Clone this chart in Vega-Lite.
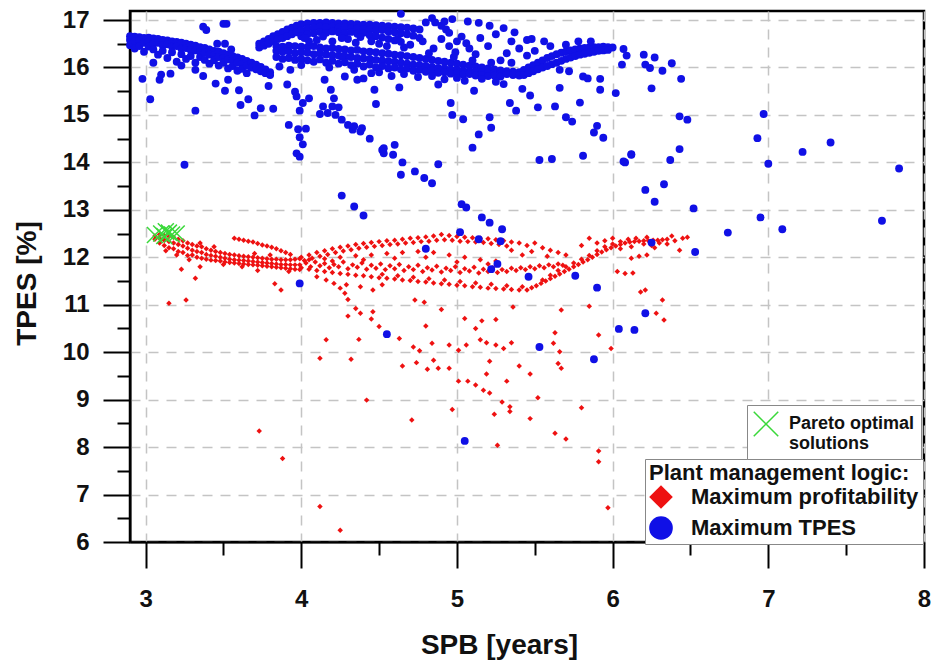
{
"$schema": "https://vega.github.io/schema/vega-lite/v6.json",
"width": 794,
"height": 531,
"autosize": {"type": "none"},
"padding": {"left": 130, "top": 11, "right": 10, "bottom": 119},
"background": "white",
"config": {"view": {"stroke": "black", "strokeWidth": 2.5}, "font": "Liberation Sans"},
"datasets": {
"blue": [
{"x":2.90,"y":16.66},{"x":2.90,"y":16.58},{"x":2.90,"y":16.47},
{"x":2.93,"y":16.65},{"x":2.93,"y":16.55},{"x":2.93,"y":16.40},
{"x":2.96,"y":16.64},{"x":2.96,"y":16.57},{"x":2.96,"y":16.45},
{"x":2.99,"y":16.62},{"x":2.99,"y":16.52},{"x":2.99,"y":16.33},
{"x":3.02,"y":16.63},{"x":3.02,"y":16.55},{"x":3.02,"y":16.44},
{"x":3.05,"y":16.61},{"x":3.05,"y":16.50},{"x":3.05,"y":16.38},
{"x":3.08,"y":16.60},{"x":3.08,"y":16.52},{"x":3.08,"y":16.27},
{"x":3.11,"y":16.58},{"x":3.11,"y":16.47},{"x":3.11,"y":16.35},
{"x":3.14,"y":16.57},{"x":3.14,"y":16.49},{"x":3.14,"y":16.20},
{"x":3.17,"y":16.55},{"x":3.17,"y":16.44},{"x":3.17,"y":16.32},
{"x":3.20,"y":16.54},{"x":3.20,"y":16.45},{"x":3.20,"y":16.12},
{"x":3.23,"y":16.52},{"x":3.23,"y":16.40},{"x":3.23,"y":16.28},
{"x":3.26,"y":16.50},{"x":3.26,"y":16.41},{"x":3.26,"y":16.18},
{"x":3.29,"y":16.48},{"x":3.29,"y":16.37},{"x":3.29,"y":16.24},
{"x":3.32,"y":16.46},{"x":3.32,"y":16.36},{"x":3.32,"y":16.10},
{"x":3.35,"y":16.43},{"x":3.35,"y":16.33},{"x":3.35,"y":16.22},
{"x":3.38,"y":16.41},{"x":3.38,"y":16.31},{"x":3.38,"y":16.16},
{"x":3.41,"y":16.38},{"x":3.41,"y":16.27},{"x":3.41,"y":16.08},
{"x":3.44,"y":16.35},{"x":3.44,"y":16.26},{"x":3.44,"y":16.15},
{"x":3.47,"y":16.33},{"x":3.47,"y":16.22},{"x":3.47,"y":16.04},
{"x":3.50,"y":16.30},{"x":3.50,"y":16.20},{"x":3.50,"y":16.10},
{"x":3.53,"y":16.27},{"x":3.53,"y":16.17},{"x":3.53,"y":15.98},
{"x":3.56,"y":16.24},{"x":3.56,"y":16.14},{"x":3.56,"y":16.03},
{"x":3.59,"y":16.21},{"x":3.59,"y":16.10},{"x":3.59,"y":15.93},
{"x":3.62,"y":16.18},{"x":3.62,"y":16.08},{"x":3.62,"y":15.97},
{"x":3.65,"y":16.14},{"x":3.65,"y":16.04},{"x":3.65,"y":15.88},
{"x":3.68,"y":16.10},{"x":3.68,"y":16.00},
{"x":3.71,"y":16.06},{"x":3.71,"y":15.96},
{"x":3.74,"y":16.01},{"x":3.74,"y":15.92},
{"x":3.77,"y":15.96},{"x":3.77,"y":15.88},
{"x":3.80,"y":15.90},{"x":3.80,"y":15.84},
{"x":2.98,"y":15.76},{"x":3.03,"y":15.33},{"x":3.32,"y":15.09},{"x":3.25,"y":13.95},{"x":3.09,"y":15.74},{"x":3.10,"y":15.85},{"x":3.05,"y":16.10},{"x":3.45,"y":15.66},{"x":3.51,"y":15.51},{"x":3.60,"y":15.52},{"x":3.53,"y":15.74},{"x":3.61,"y":15.21},{"x":3.66,"y":15.33},{"x":3.70,"y":14.99},{"x":3.74,"y":15.14},{"x":3.82,"y":15.13},{"x":3.79,"y":15.61},{"x":3.46,"y":16.50},{"x":3.51,"y":16.50},{"x":3.37,"y":16.86},{"x":3.39,"y":16.79},{"x":3.50,"y":16.92},{"x":3.52,"y":16.92},{"x":3.55,"y":16.38},{"x":3.32,"y":15.95},{"x":3.37,"y":15.82},{"x":3.16,"y":15.87},{"x":3.23,"y":16.04},
{"x":3.73,"y":16.50},{"x":3.73,"y":16.42},{"x":3.76,"y":16.55},{"x":3.76,"y":16.46},{"x":3.79,"y":16.60},{"x":3.79,"y":16.50},{"x":3.82,"y":16.66},{"x":3.82,"y":16.55},{"x":3.85,"y":16.70},{"x":3.85,"y":16.60},{"x":3.88,"y":16.75},{"x":3.88,"y":16.62},{"x":3.91,"y":16.80},{"x":3.91,"y":16.66},{"x":3.94,"y":16.84},{"x":3.94,"y":16.70},{"x":3.97,"y":16.88},{"x":3.97,"y":16.74},
{"x":4.00,"y":16.91},{"x":4.00,"y":16.78},{"x":4.00,"y":16.66},
{"x":4.04,"y":16.93},{"x":4.04,"y":16.82},{"x":4.04,"y":16.70},
{"x":4.08,"y":16.94},{"x":4.08,"y":16.84},{"x":4.08,"y":16.72},
{"x":4.12,"y":16.94},{"x":4.12,"y":16.86},{"x":4.12,"y":16.75},
{"x":4.16,"y":16.95},{"x":4.16,"y":16.85},{"x":4.16,"y":16.73},
{"x":4.20,"y":16.94},{"x":4.20,"y":16.86},{"x":4.20,"y":16.76},
{"x":4.24,"y":16.93},{"x":4.24,"y":16.84},{"x":4.24,"y":16.74},
{"x":4.28,"y":16.93},{"x":4.28,"y":16.85},{"x":4.28,"y":16.72},
{"x":4.32,"y":16.92},{"x":4.32,"y":16.83},{"x":4.32,"y":16.75},
{"x":4.36,"y":16.91},{"x":4.36,"y":16.82},{"x":4.36,"y":16.71},
{"x":4.40,"y":16.90},{"x":4.40,"y":16.81},{"x":4.40,"y":16.73},
{"x":4.44,"y":16.90},{"x":4.44,"y":16.80},{"x":4.44,"y":16.68},
{"x":4.48,"y":16.89},{"x":4.48,"y":16.78},{"x":4.48,"y":16.66},
{"x":4.52,"y":16.88},{"x":4.52,"y":16.79},{"x":4.52,"y":16.63},
{"x":4.56,"y":16.87},{"x":4.56,"y":16.76},{"x":4.56,"y":16.60},
{"x":4.60,"y":16.86},{"x":4.60,"y":16.74},{"x":4.60,"y":16.57},
{"x":4.64,"y":16.85},{"x":4.64,"y":16.72},{"x":4.64,"y":16.54},
{"x":4.68,"y":16.84},{"x":4.68,"y":16.70},{"x":4.72,"y":16.82},{"x":4.72,"y":16.67},{"x":4.76,"y":16.80},{"x":4.76,"y":16.62},
{"x":4.80,"y":16.95},{"x":4.86,"y":16.95},{"x":4.90,"y":16.88},{"x":4.93,"y":16.80},{"x":4.95,"y":16.73},{"x":4.92,"y":16.97},
{"x":3.84,"y":16.45},{"x":3.84,"y":16.35},{"x":3.84,"y":16.22},
{"x":3.88,"y":16.44},{"x":3.88,"y":16.33},{"x":3.88,"y":16.18},
{"x":3.92,"y":16.46},{"x":3.92,"y":16.34},{"x":3.92,"y":16.20},
{"x":3.96,"y":16.45},{"x":3.96,"y":16.30},{"x":3.96,"y":16.16},
{"x":4.00,"y":16.44},{"x":4.00,"y":16.32},{"x":4.00,"y":16.18},{"x":4.00,"y":16.05},
{"x":4.04,"y":16.43},{"x":4.04,"y":16.31},{"x":4.04,"y":16.15},
{"x":4.08,"y":16.45},{"x":4.08,"y":16.28},{"x":4.08,"y":16.12},
{"x":4.12,"y":16.42},{"x":4.12,"y":16.30},{"x":4.12,"y":16.17},
{"x":4.16,"y":16.40},{"x":4.16,"y":16.27},{"x":4.16,"y":16.10},
{"x":4.20,"y":16.41},{"x":4.20,"y":16.26},{"x":4.20,"y":16.14},
{"x":4.24,"y":16.39},{"x":4.24,"y":16.25},{"x":4.24,"y":16.08},
{"x":4.28,"y":16.38},{"x":4.28,"y":16.23},{"x":4.28,"y":16.11},
{"x":4.32,"y":16.36},{"x":4.32,"y":16.22},{"x":4.32,"y":16.05},
{"x":4.36,"y":16.37},{"x":4.36,"y":16.20},{"x":4.36,"y":16.08},
{"x":4.40,"y":16.34},{"x":4.40,"y":16.19},{"x":4.40,"y":16.02},
{"x":4.44,"y":16.33},{"x":4.44,"y":16.18},{"x":4.44,"y":16.06},
{"x":4.48,"y":16.32},{"x":4.48,"y":16.16},{"x":4.48,"y":16.00},
{"x":4.52,"y":16.30},{"x":4.52,"y":16.15},{"x":4.52,"y":16.03},
{"x":4.56,"y":16.29},{"x":4.56,"y":16.13},{"x":4.56,"y":15.98},
{"x":4.60,"y":16.27},{"x":4.60,"y":16.12},{"x":4.60,"y":16.00},
{"x":4.64,"y":16.26},{"x":4.64,"y":16.10},{"x":4.64,"y":15.96},
{"x":4.68,"y":16.24},{"x":4.68,"y":16.08},{"x":4.68,"y":15.98},
{"x":4.72,"y":16.22},{"x":4.72,"y":16.06},{"x":4.72,"y":15.93},
{"x":4.76,"y":16.20},{"x":4.76,"y":16.05},{"x":4.76,"y":15.95},
{"x":4.80,"y":16.18},{"x":4.80,"y":16.03},{"x":4.80,"y":15.91},
{"x":4.84,"y":16.16},{"x":4.84,"y":16.01},{"x":4.84,"y":15.93},
{"x":4.88,"y":16.14},{"x":4.88,"y":15.99},{"x":4.88,"y":15.89},
{"x":4.92,"y":16.12},{"x":4.92,"y":15.98},{"x":4.92,"y":15.90},
{"x":4.96,"y":16.10},{"x":4.96,"y":15.96},{"x":4.96,"y":15.87},
{"x":5.00,"y":16.08},{"x":5.00,"y":15.95},{"x":5.00,"y":15.88},
{"x":5.04,"y":16.06},{"x":5.04,"y":15.93},{"x":5.04,"y":15.85},
{"x":5.08,"y":16.04},{"x":5.08,"y":15.92},{"x":5.08,"y":15.86},
{"x":5.12,"y":16.02},{"x":5.12,"y":15.91},{"x":5.12,"y":15.83},
{"x":5.16,"y":16.00},{"x":5.16,"y":15.90},{"x":5.16,"y":15.84},
{"x":5.20,"y":15.98},{"x":5.20,"y":15.89},{"x":5.20,"y":15.82},
{"x":5.24,"y":15.96},{"x":5.24,"y":15.88},{"x":5.24,"y":15.83},
{"x":5.28,"y":15.94},{"x":5.28,"y":15.87},{"x":5.28,"y":15.81},
{"x":5.32,"y":15.92},{"x":5.32,"y":15.86},{"x":5.36,"y":15.91},{"x":5.36,"y":15.84},{"x":5.40,"y":15.90},{"x":5.40,"y":15.83},
{"x":5.43,"y":15.95},{"x":5.43,"y":15.84},{"x":5.46,"y":16.00},{"x":5.46,"y":15.88},{"x":5.49,"y":16.05},{"x":5.49,"y":15.92},{"x":5.52,"y":16.10},{"x":5.52,"y":15.96},{"x":5.55,"y":16.15},{"x":5.55,"y":16.00},{"x":5.58,"y":16.20},{"x":5.58,"y":16.03},{"x":5.61,"y":16.24},{"x":5.61,"y":16.07},{"x":5.64,"y":16.28},{"x":5.64,"y":16.10},{"x":5.67,"y":16.31},{"x":5.67,"y":16.14},{"x":5.70,"y":16.34},{"x":5.70,"y":16.18},{"x":5.73,"y":16.36},{"x":5.73,"y":16.21},{"x":5.76,"y":16.38},{"x":5.76,"y":16.24},{"x":5.79,"y":16.40},{"x":5.79,"y":16.27},{"x":5.82,"y":16.41},{"x":5.82,"y":16.29},{"x":5.85,"y":16.42},{"x":5.85,"y":16.31},{"x":5.88,"y":16.43},{"x":5.88,"y":16.33},{"x":5.91,"y":16.43},{"x":5.91,"y":16.35},{"x":5.94,"y":16.44},{"x":5.94,"y":16.36},{"x":5.97,"y":16.43},{"x":5.97,"y":16.37},{"x":6.00,"y":16.42},
{"x":4.45,"y":16.55},{"x":4.55,"y":16.45},{"x":4.62,"y":16.60},{"x":4.70,"y":16.48},{"x":4.78,"y":16.55},{"x":4.85,"y":16.40},{"x":4.90,"y":16.60},{"x":4.95,"y":16.45},{"x":5.00,"y":16.55},{"x":5.08,"y":16.40},{"x":5.15,"y":16.62},{"x":5.20,"y":16.45},{"x":5.25,"y":16.70},{"x":5.35,"y":16.55},{"x":5.40,"y":16.40},{"x":5.45,"y":16.25},{"x":5.50,"y":16.35},{"x":4.10,"y":16.58},{"x":4.20,"y":16.55},{"x":4.30,"y":16.60},{"x":4.05,"y":16.55},{"x":4.35,"y":16.52},{"x":5.28,"y":16.15},{"x":5.35,"y":16.10},{"x":5.45,"y":16.58},{"x":5.60,"y":16.45},{"x":5.70,"y":16.48},{"x":5.30,"y":15.65},{"x":5.25,"y":15.70},{"x":5.05,"y":15.72},{"x":4.92,"y":15.75},{"x":4.75,"y":15.80},{"x":4.58,"y":15.82},{"x":4.45,"y":15.88},
{"x":4.02,"y":16.62},{"x":4.14,"y":16.65},{"x":4.26,"y":16.62},{"x":4.38,"y":16.64},{"x":4.50,"y":16.50},{"x":4.66,"y":16.42},{"x":4.82,"y":16.30},{"x":4.98,"y":16.22},{"x":5.10,"y":16.15},{"x":5.22,"y":16.10},{"x":4.18,"y":16.00},{"x":4.34,"y":15.95},{"x":4.50,"y":15.90},{"x":4.66,"y":15.86},{"x":4.84,"y":15.82},{"x":5.00,"y":15.78},{"x":5.16,"y":15.76},
{"x":3.86,"y":16.02},{"x":3.93,"y":15.95},{"x":3.91,"y":15.64},{"x":3.96,"y":15.49},{"x":3.97,"y":15.39},{"x":4.01,"y":15.25},{"x":3.99,"y":15.09},{"x":3.92,"y":14.79},{"x":3.98,"y":14.70},{"x":4.03,"y":14.71},{"x":3.99,"y":14.53},{"x":4.01,"y":14.38},{"x":3.97,"y":14.19},{"x":3.99,"y":14.12},{"x":4.05,"y":15.35},
{"x":4.12,"y":15.02},{"x":4.14,"y":15.18},{"x":4.17,"y":15.04},{"x":4.20,"y":15.18},{"x":4.21,"y":15.35},{"x":4.19,"y":15.53},{"x":4.24,"y":15.16},{"x":4.22,"y":15.00},{"x":4.26,"y":14.90},{"x":4.30,"y":14.79},{"x":4.33,"y":14.69},{"x":4.34,"y":14.76},{"x":4.38,"y":14.65},{"x":4.39,"y":14.72},{"x":4.44,"y":14.50},{"x":4.52,"y":14.26},{"x":4.53,"y":14.19},{"x":4.15,"y":15.74},{"x":4.26,"y":16.23},{"x":4.28,"y":15.81},{"x":4.36,"y":15.74},{"x":4.40,"y":15.77},{"x":4.47,"y":15.53},{"x":4.48,"y":15.23},{"x":4.26,"y":13.30},{"x":4.34,"y":13.07},
{"x":4.64,"y":17.13},{"x":4.84,"y":17.04},{"x":4.97,"y":17.02},{"x":5.07,"y":16.97},{"x":5.14,"y":16.94},{"x":5.21,"y":16.88},{"x":5.30,"y":16.83},{"x":5.37,"y":16.74},{"x":5.48,"y":16.60},{"x":5.56,"y":16.55},{"x":5.03,"y":16.65},{"x":5.06,"y":16.51},{"x":4.99,"y":16.32},{"x":5.12,"y":16.28},{"x":5.32,"y":16.30},{"x":5.78,"y":16.55},{"x":5.86,"y":16.55},{"x":6.09,"y":16.25},{"x":6.06,"y":16.06},{"x":5.92,"y":15.76},{"x":5.92,"y":15.53},{"x":6.02,"y":15.46},{"x":5.81,"y":15.81},{"x":5.84,"y":15.77},{"x":5.66,"y":15.57},{"x":5.79,"y":15.26},{"x":5.63,"y":15.18},{"x":5.52,"y":15.16},{"x":5.47,"y":15.41},{"x":5.42,"y":15.55},{"x":5.34,"y":15.25},{"x":5.38,"y":15.09},{"x":5.70,"y":14.95},{"x":5.74,"y":14.86},{"x":5.90,"y":14.77},{"x":5.88,"y":14.63},{"x":5.94,"y":14.52},{"x":5.81,"y":14.14},{"x":5.53,"y":14.05},{"x":5.61,"y":14.07},{"x":6.08,"y":14.00},{"x":6.12,"y":14.16},{"x":5.66,"y":15.95},{"x":5.72,"y":15.92},
{"x":4.63,"y":15.58},{"x":4.88,"y":15.64},{"x":4.96,"y":15.25},{"x":4.97,"y":15.00},{"x":5.04,"y":14.91},{"x":5.11,"y":15.51},{"x":5.14,"y":14.59},{"x":5.21,"y":14.95},{"x":5.22,"y":14.73},{"x":5.10,"y":14.31},{"x":4.88,"y":13.96},{"x":4.64,"y":13.74},{"x":4.73,"y":13.81},{"x":4.79,"y":13.67},{"x":4.84,"y":13.56},{"x":4.53,"y":14.30},{"x":4.60,"y":14.37},{"x":4.59,"y":14.16},{"x":4.65,"y":14.00},{"x":5.03,"y":13.12},{"x":5.06,"y":13.05},
{"x":5.16,"y":12.84},{"x":5.21,"y":12.73},{"x":5.29,"y":12.59},{"x":5.02,"y":12.53},{"x":5.14,"y":12.38},{"x":5.28,"y":12.34},{"x":4.80,"y":12.18},{"x":5.26,"y":11.86},{"x":5.22,"y":11.75},{"x":5.46,"y":11.59},{"x":5.76,"y":11.61},{"x":5.90,"y":11.36},{"x":6.21,"y":10.82},{"x":6.04,"y":10.49},{"x":6.14,"y":10.47},{"x":5.53,"y":10.11},{"x":5.88,"y":9.85},{"x":5.05,"y":8.13},{"x":4.55,"y":10.38},{"x":6.27,"y":13.17},{"x":6.25,"y":12.31},{"x":4.40,"y":12.88},{"x":3.99,"y":11.45},
{"x":6.07,"y":16.39},{"x":6.20,"y":16.27},{"x":6.21,"y":16.06},{"x":6.24,"y":15.99},{"x":6.27,"y":16.21},{"x":6.32,"y":15.93},{"x":6.38,"y":16.09},{"x":6.44,"y":15.76},{"x":6.25,"y":15.56},{"x":6.43,"y":14.97},{"x":6.48,"y":14.90},{"x":6.97,"y":15.02},{"x":6.93,"y":14.51},{"x":7.22,"y":14.22},{"x":7.40,"y":14.42},{"x":7.00,"y":13.97},{"x":7.84,"y":13.87},{"x":6.07,"y":14.02},{"x":6.12,"y":14.17},{"x":6.37,"y":14.05},{"x":6.43,"y":14.28},{"x":6.33,"y":13.54},{"x":6.21,"y":13.42},{"x":6.52,"y":13.03},{"x":6.95,"y":12.84},{"x":7.09,"y":12.59},{"x":7.73,"y":12.77},{"x":6.74,"y":12.52},{"x":6.53,"y":12.11}
],
"red": [
{"x":3.06,"y":12.45},{"x":3.06,"y":12.38},
{"x":3.09,"y":12.48},{"x":3.09,"y":12.40},{"x":3.09,"y":12.30},
{"x":3.12,"y":12.46},{"x":3.12,"y":12.36},{"x":3.12,"y":12.25},
{"x":3.15,"y":12.44},{"x":3.15,"y":12.33},{"x":3.15,"y":12.20},
{"x":3.18,"y":12.42},{"x":3.18,"y":12.30},{"x":3.18,"y":12.18},
{"x":3.21,"y":12.38},{"x":3.21,"y":12.27},{"x":3.21,"y":12.12},
{"x":3.24,"y":12.35},{"x":3.24,"y":12.24},{"x":3.24,"y":12.10},
{"x":3.27,"y":12.30},{"x":3.27,"y":12.19},{"x":3.27,"y":12.04},
{"x":3.30,"y":12.27},{"x":3.30,"y":12.15},{"x":3.30,"y":12.05},
{"x":3.33,"y":12.24},{"x":3.33,"y":12.12},{"x":3.33,"y":12.00},
{"x":3.36,"y":12.22},{"x":3.36,"y":12.10},{"x":3.36,"y":11.98},
{"x":3.39,"y":12.18},{"x":3.39,"y":12.06},{"x":3.39,"y":11.96},
{"x":3.42,"y":12.15},{"x":3.42,"y":12.04},{"x":3.42,"y":11.94},
{"x":3.45,"y":12.12},{"x":3.45,"y":12.02},{"x":3.45,"y":11.93},
{"x":3.48,"y":12.10},{"x":3.48,"y":12.00},{"x":3.48,"y":11.92},
{"x":3.51,"y":12.08},{"x":3.51,"y":11.98},{"x":3.51,"y":11.90},
{"x":3.54,"y":12.06},{"x":3.54,"y":11.96},{"x":3.54,"y":11.89},
{"x":3.57,"y":12.05},{"x":3.57,"y":11.95},{"x":3.57,"y":11.88},
{"x":3.60,"y":12.03},{"x":3.60,"y":11.94},{"x":3.60,"y":11.87},
{"x":3.63,"y":12.02},{"x":3.63,"y":11.93},{"x":3.63,"y":11.86},
{"x":3.66,"y":12.01},{"x":3.66,"y":11.92},{"x":3.66,"y":11.85},
{"x":3.69,"y":12.00},{"x":3.69,"y":11.91},{"x":3.69,"y":11.84},
{"x":3.72,"y":11.99},{"x":3.72,"y":11.90},{"x":3.72,"y":11.83},
{"x":3.75,"y":11.98},{"x":3.75,"y":11.89},{"x":3.75,"y":11.82},
{"x":3.78,"y":11.97},{"x":3.78,"y":11.88},{"x":3.78,"y":11.81},
{"x":3.81,"y":11.96},{"x":3.81,"y":11.87},{"x":3.81,"y":11.80},
{"x":3.84,"y":11.96},{"x":3.84,"y":11.86},{"x":3.84,"y":11.79},
{"x":3.87,"y":11.95},{"x":3.87,"y":11.85},{"x":3.87,"y":11.78},
{"x":3.90,"y":11.95},{"x":3.90,"y":11.85},{"x":3.90,"y":11.77},
{"x":3.93,"y":11.95},{"x":3.93,"y":11.84},{"x":3.93,"y":11.76},
{"x":3.96,"y":11.96},{"x":3.96,"y":11.84},{"x":3.96,"y":11.75},
{"x":3.99,"y":11.97},{"x":3.99,"y":11.84},{"x":3.99,"y":11.74},
{"x":3.13,"y":12.14},{"x":3.20,"y":12.05},{"x":3.28,"y":11.95},{"x":3.35,"y":12.30},{"x":3.44,"y":12.22},{"x":3.50,"y":11.85},{"x":3.62,"y":11.80},{"x":3.70,"y":12.08},{"x":3.80,"y":12.05},{"x":3.92,"y":11.70},
{"x":3.57,"y":12.40},{"x":3.60,"y":12.38},{"x":3.63,"y":12.36},{"x":3.66,"y":12.34},{"x":3.69,"y":12.32},{"x":3.72,"y":12.29},{"x":3.75,"y":12.26},{"x":3.78,"y":12.24},{"x":3.81,"y":12.21},{"x":3.84,"y":12.18},{"x":3.87,"y":12.14},{"x":3.90,"y":12.10},{"x":3.93,"y":12.06},
{"x":4.00,"y":12.00},{"x":4.05,"y":12.05},{"x":4.10,"y":12.10},{"x":4.15,"y":12.14},{"x":4.20,"y":12.18},{"x":4.25,"y":12.21},{"x":4.30,"y":12.24},{"x":4.35,"y":12.27},{"x":4.40,"y":12.29},{"x":4.45,"y":12.31},{"x":4.50,"y":12.33},{"x":4.55,"y":12.35},{"x":4.60,"y":12.36},{"x":4.65,"y":12.38},{"x":4.70,"y":12.40},{"x":4.75,"y":12.41},{"x":4.80,"y":12.43},{"x":4.85,"y":12.45},{"x":4.90,"y":12.48},{"x":4.95,"y":12.46},{"x":5.00,"y":12.44},{"x":5.05,"y":12.42},{"x":5.10,"y":12.41},{"x":5.15,"y":12.40},{"x":5.20,"y":12.39},{"x":5.25,"y":12.37},{"x":5.30,"y":12.35},{"x":5.35,"y":12.32},{"x":5.40,"y":12.30},
{"x":4.02,"y":11.93},{"x":4.07,"y":11.98},{"x":4.12,"y":12.02},{"x":4.17,"y":12.06},{"x":4.22,"y":12.10},{"x":4.27,"y":12.13},{"x":4.32,"y":12.16},{"x":4.37,"y":12.19},{"x":4.42,"y":12.21},{"x":4.47,"y":12.23},{"x":4.52,"y":12.25},{"x":4.57,"y":12.27},{"x":4.62,"y":12.28},{"x":4.67,"y":12.30},{"x":4.72,"y":12.31},{"x":4.77,"y":12.33},{"x":4.82,"y":12.34},{"x":4.87,"y":12.36},{"x":4.92,"y":12.37},{"x":4.97,"y":12.36},{"x":5.02,"y":12.34},{"x":5.07,"y":12.33},{"x":5.12,"y":12.32},{"x":5.17,"y":12.31},{"x":5.22,"y":12.29},{"x":5.27,"y":12.27},{"x":5.32,"y":12.24},
{"x":5.45,"y":12.25},{"x":5.50,"y":12.30},{"x":5.55,"y":12.20},{"x":5.60,"y":12.15},{"x":5.65,"y":12.10},{"x":5.70,"y":12.05},{"x":5.48,"y":12.12},{"x":5.58,"y":12.02},{"x":5.35,"y":12.15},{"x":5.42,"y":12.05},
{"x":4.03,"y":11.88},{"x":4.06,"y":11.80},{"x":4.09,"y":11.90},{"x":4.12,"y":11.82},{"x":4.15,"y":11.87},{"x":4.18,"y":11.78},{"x":4.21,"y":11.85},{"x":4.24,"y":11.80},{"x":4.27,"y":11.90},{"x":4.30,"y":11.76},{"x":4.33,"y":11.84},{"x":4.36,"y":11.79},{"x":4.39,"y":11.88},{"x":4.42,"y":11.75},{"x":4.45,"y":11.83},{"x":4.48,"y":11.77},{"x":4.51,"y":11.86},{"x":4.54,"y":11.74},{"x":4.57,"y":11.82},{"x":4.60,"y":11.76},{"x":4.63,"y":11.85},{"x":4.66,"y":11.72},{"x":4.69,"y":11.80},{"x":4.72,"y":11.74},{"x":4.75,"y":11.83},{"x":4.78,"y":11.70},{"x":4.81,"y":11.78},{"x":4.84,"y":11.73},{"x":4.87,"y":11.81},{"x":4.90,"y":11.69},{"x":4.93,"y":11.77},{"x":4.96,"y":11.72},{"x":4.99,"y":11.80},{"x":5.02,"y":11.68},{"x":5.05,"y":11.76},{"x":5.08,"y":11.71},{"x":5.11,"y":11.79},{"x":5.14,"y":11.67},{"x":5.17,"y":11.75},{"x":5.20,"y":11.70},{"x":5.23,"y":11.78},{"x":5.26,"y":11.68},{"x":5.29,"y":11.74},{"x":5.32,"y":11.70},{"x":5.35,"y":11.77},{"x":5.38,"y":11.72},{"x":5.41,"y":11.78},{"x":5.44,"y":11.74},{"x":5.47,"y":11.80},{"x":5.50,"y":11.76},{"x":5.53,"y":11.82},{"x":5.56,"y":11.78},{"x":5.59,"y":11.84},{"x":5.62,"y":11.80},{"x":5.65,"y":11.86},{"x":5.68,"y":11.83},
{"x":4.05,"y":11.95},{"x":4.15,"y":11.97},{"x":4.25,"y":12.00},{"x":4.35,"y":12.03},{"x":4.45,"y":12.05},{"x":4.55,"y":12.08},{"x":4.65,"y":12.10},{"x":4.75,"y":12.12},{"x":4.85,"y":12.10},{"x":4.95,"y":12.05},{"x":5.05,"y":12.00},{"x":5.15,"y":11.95},{"x":5.25,"y":11.92},{"x":4.20,"y":11.92},{"x":4.40,"y":11.95},{"x":4.60,"y":11.98},{"x":4.80,"y":12.00},{"x":5.00,"y":11.90},{"x":5.20,"y":11.86},
{"x":4.00,"y":11.78},{"x":4.05,"y":11.75},{"x":4.10,"y":11.72},{"x":4.15,"y":11.70},{"x":4.20,"y":11.68},{"x":4.25,"y":11.66},{"x":4.30,"y":11.64},{"x":4.35,"y":11.62},{"x":4.40,"y":11.61},{"x":4.45,"y":11.59},{"x":4.50,"y":11.57},{"x":4.55,"y":11.56},{"x":4.60,"y":11.54},{"x":4.65,"y":11.52},{"x":4.70,"y":11.51},{"x":4.75,"y":11.49},{"x":4.80,"y":11.48},{"x":4.85,"y":11.46},{"x":4.90,"y":11.44},{"x":4.95,"y":11.43},{"x":5.00,"y":11.41},{"x":5.05,"y":11.40},{"x":5.10,"y":11.38},{"x":5.15,"y":11.37},{"x":5.20,"y":11.35},{"x":5.25,"y":11.34},{"x":5.30,"y":11.33},{"x":5.35,"y":11.32},{"x":5.40,"y":11.31},{"x":5.45,"y":11.31},
{"x":4.52,"y":11.64},{"x":4.62,"y":11.61},{"x":4.72,"y":11.58},{"x":4.82,"y":11.55},{"x":4.92,"y":11.52},{"x":5.02,"y":11.49},{"x":5.12,"y":11.46},{"x":5.22,"y":11.43},{"x":5.32,"y":11.40},{"x":5.42,"y":11.38},
{"x":5.48,"y":11.36},{"x":5.51,"y":11.40},{"x":5.54,"y":11.45},{"x":5.57,"y":11.50},{"x":5.60,"y":11.55},{"x":5.63,"y":11.60},{"x":5.66,"y":11.65},{"x":5.69,"y":11.70},{"x":5.72,"y":11.75},{"x":5.75,"y":11.80},{"x":5.78,"y":11.85},{"x":5.81,"y":11.90},{"x":5.84,"y":11.95},{"x":5.87,"y":12.00},{"x":5.90,"y":12.06},{"x":5.93,"y":12.11},{"x":5.96,"y":12.16},{"x":5.99,"y":12.20},{"x":6.02,"y":12.24},{"x":6.05,"y":12.27},{"x":6.08,"y":12.30},{"x":6.11,"y":12.32},{"x":6.14,"y":12.33},{"x":6.17,"y":12.34},{"x":6.20,"y":12.35},{"x":6.23,"y":12.35},{"x":6.26,"y":12.36},{"x":6.29,"y":12.36},{"x":6.32,"y":12.37},{"x":6.35,"y":12.38},
{"x":5.55,"y":11.52},{"x":5.60,"y":11.62},{"x":5.65,"y":11.72},{"x":5.70,"y":11.80},{"x":5.75,"y":11.88},{"x":5.80,"y":11.96},{"x":5.85,"y":12.04},{"x":5.90,"y":12.14},{"x":5.95,"y":12.22},{"x":6.00,"y":12.28},{"x":6.05,"y":12.33},{"x":6.10,"y":12.38},{"x":6.15,"y":12.40},{"x":6.20,"y":12.28},{"x":6.25,"y":12.25},{"x":6.30,"y":12.30},{"x":6.35,"y":12.28},{"x":6.40,"y":12.35},{"x":6.45,"y":12.40},{"x":6.22,"y":12.42},{"x":6.05,"y":12.18},{"x":6.12,"y":12.22},
{"x":5.90,"y":12.30},{"x":5.95,"y":12.35},{"x":6.00,"y":12.40},{"x":6.27,"y":12.20},{"x":6.43,"y":12.15},{"x":6.48,"y":12.42},{"x":6.38,"y":12.45},{"x":5.80,"y":12.25},{"x":5.85,"y":12.40},{"x":6.17,"y":12.02},{"x":6.22,"y":12.05},{"x":6.12,"y":11.98},
{"x":3.15,"y":11.03},{"x":3.26,"y":11.10},{"x":3.32,"y":11.56},{"x":3.23,"y":11.75},{"x":3.35,"y":11.80},{"x":3.83,"y":11.44},{"x":3.87,"y":11.31},{"x":3.72,"y":11.72},{"x":3.73,"y":8.34},{"x":3.88,"y":7.76},{"x":4.12,"y":6.75},{"x":4.25,"y":6.25},{"x":4.12,"y":9.87},{"x":4.16,"y":10.26},{"x":4.32,"y":9.85},{"x":4.37,"y":10.27},{"x":4.42,"y":8.99},{"x":4.30,"y":10.76},{"x":4.35,"y":10.92},{"x":4.38,"y":10.82},{"x":4.45,"y":10.70},{"x":4.46,"y":10.85},{"x":4.50,"y":10.54},{"x":4.30,"y":11.11},{"x":4.28,"y":11.24},{"x":4.25,"y":11.35},{"x":4.21,"y":11.45},{"x":4.16,"y":11.52},{"x":4.10,"y":11.59},{"x":4.38,"y":11.38},{"x":4.46,"y":11.31},{"x":4.52,"y":11.42},{"x":4.29,"y":11.42},
{"x":4.73,"y":11.10},{"x":4.79,"y":11.05},{"x":4.90,"y":10.90},{"x":5.05,"y":10.71},{"x":4.80,"y":10.55},{"x":4.63,"y":10.29},{"x":4.72,"y":10.11},{"x":4.76,"y":10.03},{"x":4.84,"y":10.19},{"x":4.95,"y":10.15},{"x":5.01,"y":10.04},{"x":5.06,"y":10.15},{"x":5.12,"y":10.50},{"x":5.16,"y":10.66},{"x":5.25,"y":10.69},{"x":5.15,"y":10.26},{"x":5.19,"y":10.20},{"x":5.25,"y":10.15},{"x":5.30,"y":10.08},{"x":5.35,"y":10.20},{"x":5.36,"y":10.95},{"x":5.67,"y":10.89},{"x":5.63,"y":10.41},{"x":5.62,"y":10.19},{"x":5.66,"y":10.01},{"x":5.65,"y":9.76},{"x":5.67,"y":9.66},{"x":5.47,"y":9.54},{"x":5.40,"y":9.71},{"x":5.32,"y":9.39},{"x":5.21,"y":9.81},{"x":5.19,"y":9.54},{"x":5.07,"y":9.39},{"x":5.01,"y":9.39},{"x":4.95,"y":9.66},{"x":4.88,"y":9.66},{"x":4.81,"y":9.64},{"x":4.74,"y":9.78},{"x":4.65,"y":9.71},{"x":4.85,"y":9.83},{"x":5.12,"y":9.31},{"x":5.17,"y":9.20},{"x":5.21,"y":9.14},{"x":5.29,"y":8.95},{"x":5.34,"y":8.85},{"x":5.34,"y":8.75},{"x":5.24,"y":8.69},{"x":4.97,"y":8.79},{"x":4.71,"y":8.57},{"x":5.52,"y":9.04},{"x":5.47,"y":8.60},{"x":5.63,"y":8.29},{"x":5.70,"y":8.17},{"x":5.26,"y":8.04},{"x":5.80,"y":8.83},{"x":5.91,"y":10.36},{"x":5.99,"y":10.08},{"x":5.85,"y":10.97},{"x":5.91,"y":7.92},{"x":5.91,"y":7.69},{"x":6.18,"y":11.27},{"x":6.21,"y":11.31},{"x":6.32,"y":11.10},{"x":6.28,"y":10.82},{"x":6.33,"y":10.68},{"x":6.08,"y":11.66},{"x":6.03,"y":11.70},{"x":6.13,"y":11.67},{"x":5.97,"y":6.72}
],
"pareto": [
{"x":3.06,"y":12.47},{"x":3.10,"y":12.50},{"x":3.13,"y":12.55},{"x":3.15,"y":12.52},{"x":3.17,"y":12.48},{"x":3.20,"y":12.50},{"x":3.12,"y":12.45}
]
},
"layer": [
{"data": {"name": "red"},
 "mark": {"type": "point", "filled": true, "size": 30, "opacity": 1},
 "encoding": {
  "x": {"field": "x", "type": "quantitative", "scale": {"domain": [2.9, 8], "nice": false, "zero": false},
   "axis": {"title": "SPB [years]", "orient": "bottom", "values": [3,4,5,6,7,8], "format": "d",
    "grid": true, "gridColor": "#c4c4c4", "gridDash": [10, 8], "gridWidth": 1.5,
    "ticks": true, "tickSize": 26, "tickWidth": 2, "tickColor": "black", "domainColor": "black", "domainWidth": 2,
    "labelFont": "Liberation Sans", "labelFontSize": 24, "labelFontWeight": "bold", "labelColor": "#111",
    "labelPadding": 19, "labelFlush": false, "labelOverlap": false,
    "titleFont": "Liberation Sans", "titleFontSize": 28, "titleFontWeight": "bold", "titleColor": "#111",
    "titleX": 369, "titleY": 103, "titleBaseline": "middle"}},
  "y": {"field": "y", "type": "quantitative", "scale": {"domain": [6, 17.19], "nice": false, "zero": false},
   "axis": {"title": "TPES [%]", "orient": "left", "values": [6,7,8,9,10,11,12,13,14,15,16,17], "format": "d",
    "grid": true, "gridColor": "#c4c4c4", "gridDash": [10, 8], "gridWidth": 1.5,
    "ticks": true, "tickSize": 27, "tickWidth": 2, "tickColor": "black", "domainColor": "black", "domainWidth": 2,
    "labelFont": "Liberation Sans", "labelFontSize": 24, "labelFontWeight": "bold", "labelColor": "#111",
    "labelPadding": 14, "labelFlush": false, "labelOverlap": false,
    "titleFont": "Liberation Sans", "titleFontSize": 28, "titleFontWeight": "bold", "titleColor": "#111",
    "titleX": -103, "titleY": 272, "titleBaseline": "middle", "titleAngle": -90}},
  "color": {"datum": "Maximum profitability", "scale": {"domain": ["Maximum profitability", "Maximum TPES"], "range": ["#ee1111", "#1010e6"]},
   "legend": {"title": "Plant management logic:", "orient": "none", "legendX": 515, "legendY": 448, "zindex": 1,
    "strokeColor": "#888", "fillColor": "white", "padding": 4, "rowPadding": 7,
    "titleFont": "Liberation Sans", "titleFontSize": 22, "titleFontWeight": "bold", "titleColor": "#111", "titlePadding": 0, "titleLimit": 500,
    "labelFont": "Liberation Sans", "labelFontSize": 22, "labelFontWeight": "bold", "labelColor": "#111", "labelOffset": 18, "labelLimit": 0,
    "symbolSize": 560, "symbolStrokeWidth": 0}},
  "shape": {"datum": "Maximum profitability", "scale": {"domain": ["Maximum profitability", "Maximum TPES"], "range": ["diamond", "circle"]},
   "legend": {"title": "Plant management logic:", "orient": "none", "legendX": 515, "legendY": 448, "zindex": 1,
    "strokeColor": "#888", "fillColor": "white", "padding": 4, "rowPadding": 7,
    "titleFont": "Liberation Sans", "titleFontSize": 22, "titleFontWeight": "bold", "titleColor": "#111", "titlePadding": 0, "titleLimit": 500,
    "labelFont": "Liberation Sans", "labelFontSize": 22, "labelFontWeight": "bold", "labelColor": "#111", "labelOffset": 18, "labelLimit": 0,
    "symbolSize": 560, "symbolStrokeWidth": 0}}
 }},
{"data": {"name": "blue"},
 "mark": {"type": "point", "filled": true, "size": 62, "opacity": 1},
 "encoding": {
  "x": {"field": "x", "type": "quantitative",
   "axis": {"title": null, "orient": "bottom", "values": [3.5,4.5,5.5,6.5,7.5], "labels": false, "grid": false, "domain": false,
    "ticks": true, "tickSize": 13, "tickWidth": 2, "tickColor": "black"}},
  "y": {"field": "y", "type": "quantitative",
   "axis": {"title": null, "orient": "left", "values": [6.5,7.5,8.5,9.5,10.5,11.5,12.5,13.5,14.5,15.5,16.5], "labels": false, "grid": false, "domain": false,
    "ticks": true, "tickSize": 13, "tickWidth": 2, "tickColor": "black"}},
  "color": {"datum": "Maximum TPES"},
  "shape": {"datum": "Maximum TPES"}
 }},
{"data": {"name": "pareto"},
 "mark": {"type": "point", "filled": false, "shape": "M-1,-1L1,1M-1,1L1,-1", "size": 256, "strokeWidth": 1.5, "opacity": 1},
 "encoding": {
  "x": {"field": "x", "type": "quantitative", "axis": null},
  "y": {"field": "y", "type": "quantitative", "axis": null},
  "stroke": {"datum": "Pareto optimal solutions", "scale": {"domain": ["Pareto optimal solutions"], "range": ["#3ad83a"]},
   "legend": {"title": null, "orient": "none", "legendX": 617, "legendY": 394, "zindex": 1,
    "strokeColor": "#888", "fillColor": "white", "padding": 6,
    "labelFont": "Liberation Sans", "labelFontSize": 18, "labelFontWeight": "bold", "labelColor": "#111", "labelOffset": 10, "labelLimit": 0,
    "labelExpr": "['Pareto optimal', 'solutions']",
    "symbolType": "M-1,-1L1,1M-1,1L1,-1", "symbolSize": 600, "symbolStrokeWidth": 1.5, "symbolFillColor": "transparent"}}
 }}
],
"resolve": {"axis": {"x": "independent", "y": "independent"}}
}
